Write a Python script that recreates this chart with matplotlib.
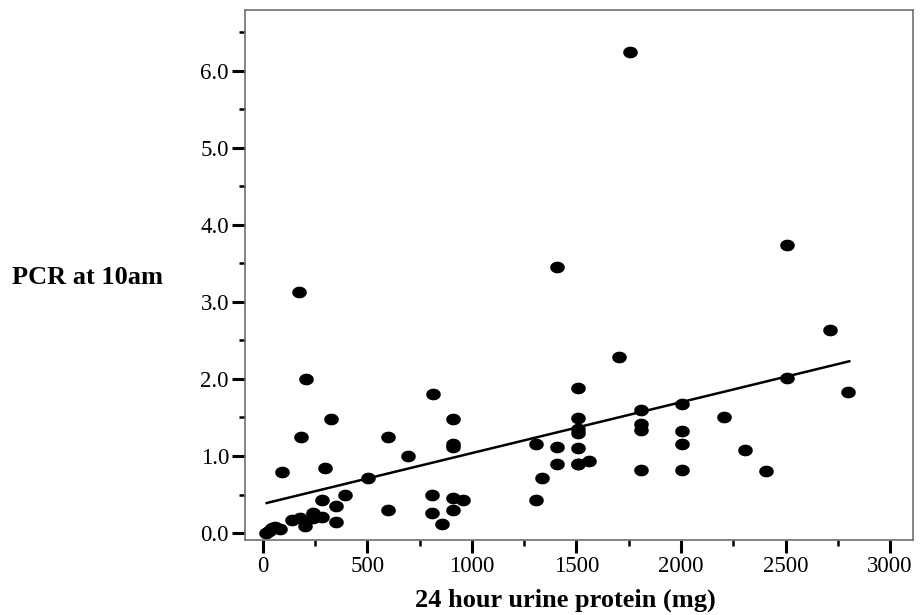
import numpy as np
import matplotlib
matplotlib.use('Agg')
import matplotlib.pyplot as plt
from matplotlib.ticker import MultipleLocator, FormatStrFormatter

# 数据：24小时尿蛋白 (mg) 与 上午10点 PCR
protein_24h = [15, 30, 45, 60, 80, 92, 137, 174, 177, 182, 201, 205, 241, 241,
               281, 281, 297, 324, 348, 348, 392, 501, 600, 600, 695, 807, 807,
               815, 858, 907, 907, 907, 907, 907, 959, 1305, 1305, 1333, 1405,
               1405, 1407, 1509, 1509, 1509, 1509, 1509, 1509, 1509, 1560,
               1705, 1756, 1807, 1807, 1807, 1807, 2006, 2006, 2006, 2006,
               2207, 2306, 2405, 2505, 2505, 2713, 2800]
pcr_10am = [0.00, 0.03, 0.07, 0.08, 0.05, 0.79, 0.17, 3.13, 0.19, 1.25, 0.09,
            2.00, 0.26, 0.19, 0.43, 0.21, 0.85, 1.48, 0.35, 0.14, 0.50, 0.71,
            1.25, 0.30, 1.00, 0.50, 0.26, 1.81, 0.12, 1.48, 1.16, 1.12, 0.45,
            0.30, 0.43, 1.16, 0.43, 0.71, 1.12, 0.89, 3.46, 1.88, 1.49, 1.35,
            1.30, 1.11, 0.89, 0.89, 0.93, 2.29, 6.24, 1.60, 1.42, 1.34, 0.82,
            1.68, 1.32, 1.16, 0.82, 1.50, 1.08, 0.81, 3.74, 2.01, 2.64, 1.83]

# 回归线（从图上读出的端点）
line_x = [18, 2805]
line_y = [0.39, 2.23]

plt.rcParams['font.family'] = ['Liberation Serif', 'DejaVu Serif']

fig = plt.figure(figsize=(9.23, 6.15), dpi=100)
ax = fig.add_axes([0.2654, 0.122, 0.7238, 0.8617])

# 椭圆形的点
t = np.linspace(0, 2 * np.pi, 40)
ellipse = np.column_stack([np.cos(t), 0.78 * np.sin(t)])
ax.plot(protein_24h, pcr_10am, linestyle='none', marker=ellipse,
        markersize=9.5, color='black')
ax.plot(line_x, line_y, color='black', linewidth=1.8)

ax.set_xlim(-86, 3110)
ax.set_ylim(-0.09, 6.79)

ax.xaxis.set_major_locator(MultipleLocator(500))
ax.xaxis.set_minor_locator(MultipleLocator(250))
ax.yaxis.set_major_locator(MultipleLocator(1.0))
ax.yaxis.set_minor_locator(MultipleLocator(0.5))
ax.yaxis.set_major_formatter(FormatStrFormatter('%.1f'))

ax.tick_params(which='major', length=9.5, width=2.2, labelsize=16.5, pad=2)
ax.tick_params(which='minor', length=4.5, width=1.8)
for s in ax.spines.values():
    s.set_color('#707070')
    s.set_linewidth(1.2)

ax.set_xlabel('24 hour urine protein (mg)', fontsize=19, fontweight='bold', va='center')
ax.xaxis.set_label_coords(0.479, -0.113)
fig.text(0.095, 0.548, 'PCR at 10am', fontsize=19, fontweight='bold',
         ha='center', va='center')

fig.savefig('out.png', dpi=100)
